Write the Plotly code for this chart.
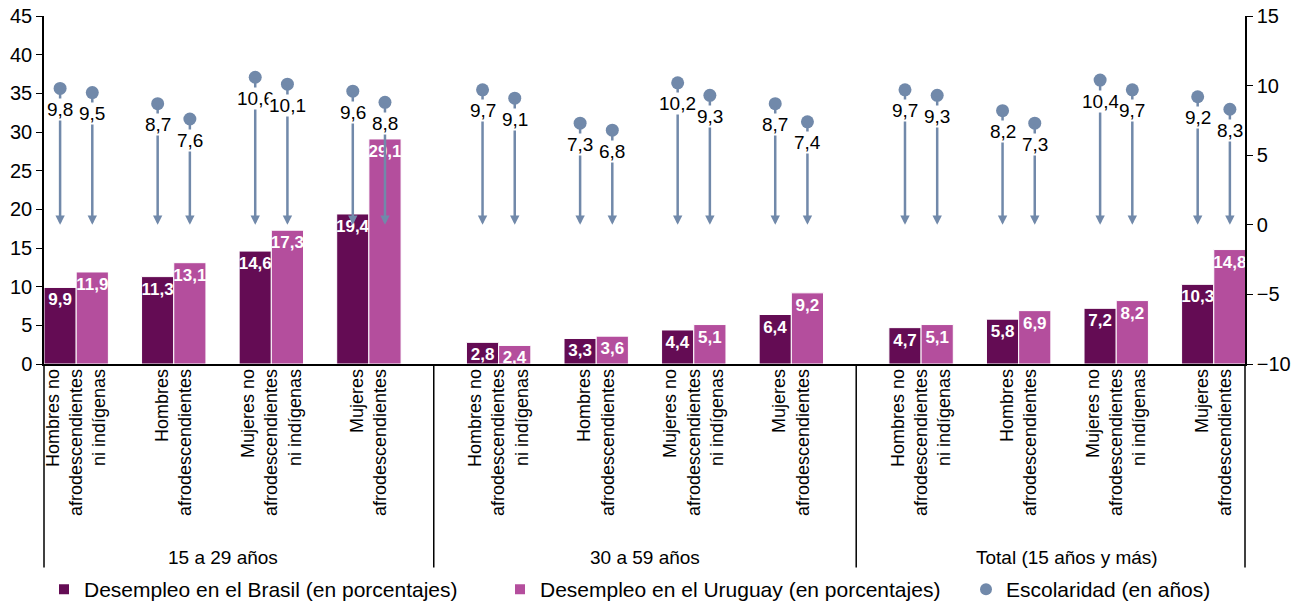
import plotly.graph_objects as go

# ---- data ----
groups = ["15 a 29 años", "30 a 59 años", "Total (15 años y más)"]
categories = [
    "Hombres no<br>afrodescendientes<br>ni indígenas",
    "Hombres<br>afrodescendientes",
    "Mujeres no<br>afrodescendientes<br>ni indígenas",
    "Mujeres<br>afrodescendientes",
]
brasil = [9.9, 11.3, 14.6, 19.4, 2.8, 3.3, 4.4, 6.4, 4.7, 5.8, 7.2, 10.3]
uruguay = [11.9, 13.1, 17.3, 29.1, 2.4, 3.6, 5.1, 9.2, 5.1, 6.9, 8.2, 14.8]
esc_brasil = [9.8, 8.7, 10.6, 9.6, 9.7, 7.3, 10.2, 8.7, 9.7, 8.2, 10.4, 9.2]
esc_uruguay = [9.5, 7.6, 10.1, 8.8, 9.1, 6.8, 9.3, 7.4, 9.3, 7.3, 9.7, 8.3]

# ---- styling ----
C_BR = "#640C54"
C_UY = "#B44E9D"
C_ESC = "#7189AA"
FONT = "Liberation Sans, Arial, sans-serif"
GROUP_STRIDE = 4.33
BARGAP = 0.34
bw = (1 - BARGAP) / 2

xs = []
ticktext = []
for g in range(len(groups)):
    for i, c in enumerate(categories):
        xs.append(g * GROUP_STRIDE + i)
        ticktext.append(c)

def fmt(v):
    return f"{v:.1f}".replace(".", ",")

fig = go.Figure()
fig.add_trace(go.Bar(
    x=xs, y=brasil, name="Desempleo en el Brasil (en porcentajes)",
    marker=dict(color=C_BR, line=dict(color="white", width=1)),
    text=[fmt(v) for v in brasil], textposition="inside", insidetextanchor="end",
    textangle=0, constraintext="none", legendwidth=411,
    textfont=dict(color="white", size=17, family=FONT, weight="bold"),
))
fig.add_trace(go.Bar(
    x=xs, y=uruguay, name="Desempleo en el Uruguay (en porcentajes)",
    marker=dict(color=C_UY, line=dict(color="white", width=1)),
    text=[fmt(v) for v in uruguay], textposition="inside", insidetextanchor="end",
    textangle=0, constraintext="none", legendwidth=421,
    textfont=dict(color="white", size=17, family=FONT, weight="bold"),
))

x_esc = []
y_esc = []
for k, x in enumerate(xs):
    x_esc += [x - bw / 2, x + bw / 2]
    y_esc += [esc_brasil[k], esc_uruguay[k]]

fig.add_trace(go.Scatter(
    x=x_esc, y=y_esc, yaxis="y2", mode="markers", name="Escolaridad (en años)",
    marker=dict(color=C_ESC, size=13), cliponaxis=False,
))

annotations = []
for x, v in zip(x_esc, y_esc):
    annotations.append(dict(
        x=x, y=0, xref="x", yref="y2", ax=x, ay=v, axref="x", ayref="y2",
        showarrow=True, arrowhead=2, arrowsize=0.75, arrowwidth=2.5,
        arrowcolor=C_ESC, text="", standoff=0,
    ))
for x, v in zip(x_esc, y_esc):
    annotations.append(dict(
        x=x, y=v, xref="x", yref="y2", text=fmt(v), showarrow=False,
        yshift=-21, bgcolor="white", borderpad=0,
        font=dict(size=19, color="black", family=FONT),
    ))

# group labels
for g, name in enumerate(groups):
    annotations.append(dict(
        x=g * GROUP_STRIDE + 1.5, y=-0.555, xref="x", yref="paper",
        text=name, showarrow=False, yanchor="middle",
        font=dict(size=19, color="black", family=FONT),
    ))

shapes = []
line_bottom = -0.585
for xp in [0, 1]:
    shapes.append(dict(type="line", xref="paper", yref="paper", x0=xp, x1=xp,
                       y0=0, y1=line_bottom, line=dict(color="black", width=1.5)))
for g in range(1, len(groups)):
    xsep = ((g - 1) * GROUP_STRIDE + 3 + g * GROUP_STRIDE) / 2
    shapes.append(dict(type="line", xref="x", yref="paper", x0=xsep, x1=xsep,
                       y0=0, y1=line_bottom, line=dict(color="black", width=1.5)))

fig.update_layout(
    width=1293, height=606,
    margin=dict(l=44, r=48, t=16, b=242, autoexpand=False),
    paper_bgcolor="white", plot_bgcolor="white",
    barmode="group", bargap=BARGAP, bargroupgap=0,
    font=dict(family=FONT, color="black"),
    showlegend=True,
    legend=dict(orientation="h", x=0.0, xanchor="left", y=-0.648, yanchor="middle",
                font=dict(size=21, family=FONT), traceorder="normal",
                itemsizing="constant"),
    xaxis=dict(range=[-0.33, 11.98], tickvals=xs, ticktext=ticktext, tickangle=-90,
               showline=True, linecolor="black", linewidth=1.5, ticks="",
               showgrid=False, zeroline=False, automargin=False,
               ticklabelstandoff=-4,
               tickfont=dict(size=18, family=FONT, color="black")),
    yaxis=dict(range=[0, 45], dtick=5, showline=True, linecolor="black", linewidth=1.5,
               ticks="outside", ticklen=6, tickcolor="black", showgrid=False,
               zeroline=False, automargin=False,
               tickfont=dict(size=20, family=FONT, color="black")),
    yaxis2=dict(range=[-10, 15], dtick=5, overlaying="y", side="right", showline=True,
                linecolor="black", linewidth=1.5, ticks="outside", ticklen=6,
                tickcolor="black", showgrid=False, zeroline=False, automargin=False,
                tickfont=dict(size=20, family=FONT, color="black")),
    annotations=annotations,
    shapes=shapes,
)

fig.write_html("out.html", config={"displayModeBar": False},
               post_script="document.body.style.margin='0px';")
